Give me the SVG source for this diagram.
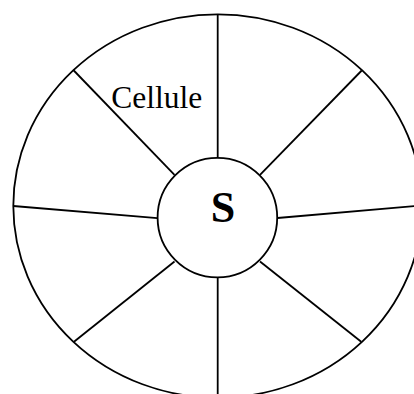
<svg xmlns="http://www.w3.org/2000/svg" width="414" height="394" viewBox="0 0 414 394">
<style>
.ln{fill:none;stroke:#000;stroke-width:1.8}
.c{fill:#fff;stroke:#000;stroke-width:1.8}
.t{font-family:"Liberation Serif","Times New Roman",serif;fill:#000}
</style>
<rect width="414" height="394" fill="#fff"/>
<g id="outer">
<ellipse class="c" cx="217.7" cy="206" rx="204.4" ry="191.7"/>
</g>
<g id="connectors">
<line class="ln" x1="217.7" y1="14.3" x2="217.7" y2="157.8"/>
<line class="ln" x1="217.7" y1="277.4" x2="217.7" y2="398"/>
<line class="ln" x1="73.3" y1="70" x2="174.5" y2="174.8"/>
<line class="ln" x1="361.7" y1="70.5" x2="260" y2="174.8"/>
<line class="ln" x1="13.3" y1="206" x2="157.3" y2="218.2"/>
<line class="ln" x1="422" y1="205.5" x2="277.5" y2="218"/>
<line class="ln" x1="74" y1="341.7" x2="174.5" y2="261.5"/>
<line class="ln" x1="361.2" y1="341.7" x2="260" y2="261.5"/>
</g>
<g id="cellule">
<text class="t" x="111.3" y="108.2" font-size="31.5">Cellule</text>
</g>
<g id="S">
<circle class="c" cx="217.4" cy="217.6" r="59.8"/>
<text class="t" x="223" y="221.8" font-size="44" font-weight="bold" text-anchor="middle">S</text>
</g>
</svg>
